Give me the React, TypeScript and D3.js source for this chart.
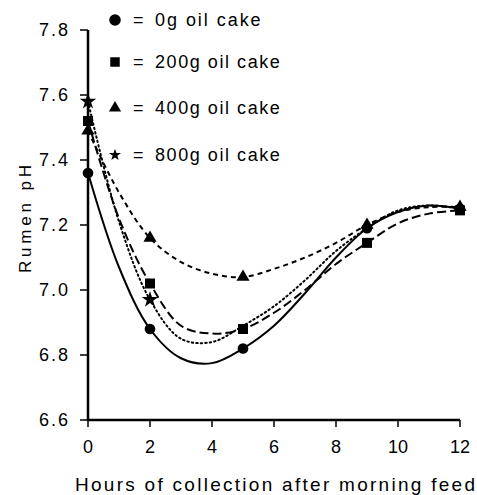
import React from "react";
import * as d3 from "d3";

const hoursTicks = [0, 2, 4, 6, 8, 10, 12];
const phTicks = [6.6, 6.8, 7.0, 7.2, 7.4, 7.6, 7.8];

const seriesNames = ["0g oil cake", "200g oil cake", "400g oil cake", "800g oil cake"];
const seriesSymbols = ["circle", "square", "triangle", "star"];
const seriesDash = [null, "9,4", "5,4", "1.5,3"];

// observed points
const obsHours0 = [0, 2, 5, 9, 12];
const obs0g = [7.36, 6.88, 6.82, 7.19, 7.25];
const obsHours200 = [0, 2, 5, 9, 12];
const obs200g = [7.52, 7.02, 6.88, 7.145, 7.245];
const obsHours400 = [0, 2, 5, 9, 12];
const obs400g = [7.49, 7.16, 7.04, 7.2, 7.255];
const obsHours800 = [0, 2];
const obs800g = [7.58, 6.97];

// fitted curves at each hour
const curveHours = [0, 1, 2, 3, 4, 5, 6, 7, 8, 9, 10, 11, 12];
const fit0g = [7.36, 7.07, 6.88, 6.79, 6.775, 6.82, 6.89, 6.99, 7.1, 7.19, 7.24, 7.26, 7.25];
const fit200g = [7.52, 7.22, 7.02, 6.89, 6.866, 6.88, 6.93, 7.0, 7.08, 7.145, 7.205, 7.235, 7.245];
const fit400g = [7.49, 7.3, 7.16, 7.086, 7.05, 7.04, 7.065, 7.1, 7.145, 7.2, 7.24, 7.255, 7.255];
const fit800g = [7.58, 7.21, 6.97, 6.85, 6.84, 6.89, 6.95, 7.03, 7.12, 7.19, 7.245, 7.26, 7.25];

const W = 477;
const H = 495;
const x = d3.scaleLinear().domain([0, 12]).range([88, 460]);
const y = d3.scaleLinear().domain([6.6, 7.8]).range([420, 30]);

const symbolType: Record<string, any> = {
  circle: d3.symbolCircle,
  square: d3.symbolSquare,
  triangle: d3.symbolTriangle,
  star: d3.symbolStar,
};
const symbolSize: Record<string, number> = { circle: 90, square: 100, triangle: 75, star: 85 };
const legendSize: Record<string, number> = { circle: 105, square: 90, triangle: 65, star: 45 };

export default function App() {
  const font = "'Liberation Sans', Arial, Helvetica, sans-serif";
  const fits = [fit0g, fit200g, fit400g, fit800g];
  const obsX = [obsHours0, obsHours200, obsHours400, obsHours800];
  const obsY = [obs0g, obs200g, obs400g, obs800g];
  const line = d3
    .line<number>()
    .x((_, i) => x(curveHours[i]))
    .y((v) => y(v))
    .curve(d3.curveCatmullRom.alpha(0.5));
  const sym = (name: string, s: number) => d3.symbol().type(symbolType[name]).size(s)() as string;

  return (
    <svg width={W} height={H} style={{ position: "absolute", left: 0, top: 0, background: "#fff" }} fontFamily={font}>
      {/* curves */}
      {fits.map((f, i) => (
        <path
          key={"c" + i}
          d={line(f) as string}
          fill="none"
          stroke="#000"
          strokeWidth={2}
          strokeDasharray={seriesDash[i] ?? undefined}
          strokeLinecap={i === 3 ? "round" : "butt"}
        />
      ))}
      {/* markers */}
      {obsX.map((xs, i) =>
        xs.map((h, j) => (
          <path
            key={"m" + i + "-" + j}
            d={sym(seriesSymbols[i], symbolSize[seriesSymbols[i]])}
            transform={`translate(${x(h)},${y(obsY[i][j])})`}
            fill="#000"
          />
        ))
      )}
      {/* axes */}
      <line x1={x(0)} x2={x(12)} y1={y(6.6)} y2={y(6.6)} stroke="#000" strokeWidth={2.5} />
      <line x1={x(0)} x2={x(0)} y1={y(7.8)} y2={y(6.6) + 1} stroke="#000" strokeWidth={2.5} />
      {phTicks.map((t) => (
        <g key={"yt" + t}>
          <line x1={x(0) - 8} x2={x(0)} y1={y(t)} y2={y(t)} stroke="#000" strokeWidth={1.5} />
          <text x={x(0) - 20} y={y(t)} dy="0.36em" textAnchor="end" fontSize={18} textLength={29} lengthAdjust="spacing">
            {t.toFixed(1)}
          </text>
        </g>
      ))}
      {hoursTicks.map((t) => (
        <g key={"xt" + t}>
          <line x1={x(t)} x2={x(t)} y1={y(6.6)} y2={y(6.6) + 7} stroke="#000" strokeWidth={1.5} />
          <text x={x(t)} y={453} textAnchor="middle" fontSize={18}>
            {t}
          </text>
        </g>
      ))}
      <text transform={`translate(31,219) rotate(-90)`} textAnchor="middle" fontSize={17} textLength={108} lengthAdjust="spacing">
        Rumen pH
      </text>
      <text x={75} y={491} fontSize={19} textLength={400} lengthAdjust="spacing">
        Hours of collection after morning feed
      </text>
      {/* legend */}
      {seriesNames.map((n, i) => {
        const ly = [20, 62, 108, 155][i];
        const s = seriesSymbols[i];
        return (
          <g key={"lg" + i}>
            <path d={sym(s, legendSize[s])} transform={`translate(115,${ly})`} fill="#000" />
            <text x={133} y={ly} dy="0.36em" fontSize={18}>
              =
            </text>
            <text x={155} y={ly} dy="0.36em" fontSize={18} textLength={n.length * 9.6} lengthAdjust="spacing">
              {n}
            </text>
          </g>
        );
      })}
    </svg>
  );
}
